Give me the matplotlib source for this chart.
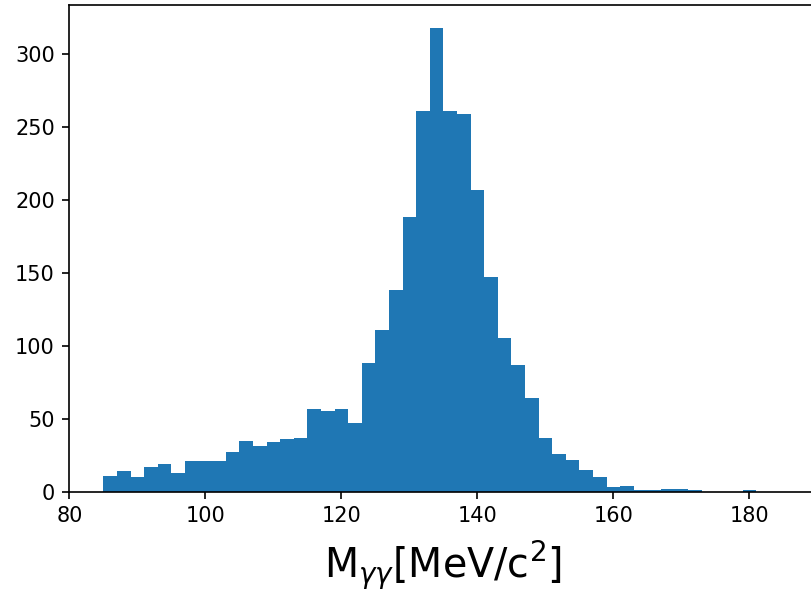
import numpy as np
import matplotlib
matplotlib.use("Agg")
import matplotlib.pyplot as plt

# Diphoton invariant-mass spectrum, 2 MeV/c^2 bins from 85 to 185
bin_edges = np.arange(85, 187, 2)
counts = [11, 14, 10, 17, 19, 13, 21, 21, 21, 27,
          35, 31, 34, 36, 37, 57, 55, 57, 47, 88,
          111, 138, 188, 261, 318, 261, 259, 207, 147, 105,
          87, 64, 37, 26, 22, 15, 10, 3, 4, 1,
          1, 2, 2, 1, 0, 0, 0, 1, 0, 0]

dpi = 150
fig = plt.figure(figsize=(811 / dpi, 591 / dpi), dpi=dpi)
ax = fig.add_axes([69.4 / 811, (591 - 491.7) / 591, 748.0 / 811, 487.2 / 591])

ax.hist(bin_edges[:-1], bins=bin_edges, weights=counts, color="#1f77b4")
ax.set_xlim(80, 190)
ax.set_ylim(0, max(counts) * 1.05)
ax.set_xticks([80, 100, 120, 140, 160, 180])
ax.set_yticks([0, 50, 100, 150, 200, 250, 300])
ax.set_xlabel(r"M$_{\gamma\gamma}$[MeV/c$^2$]", fontsize=19, labelpad=6)

fig.savefig("out.png", dpi=dpi)
